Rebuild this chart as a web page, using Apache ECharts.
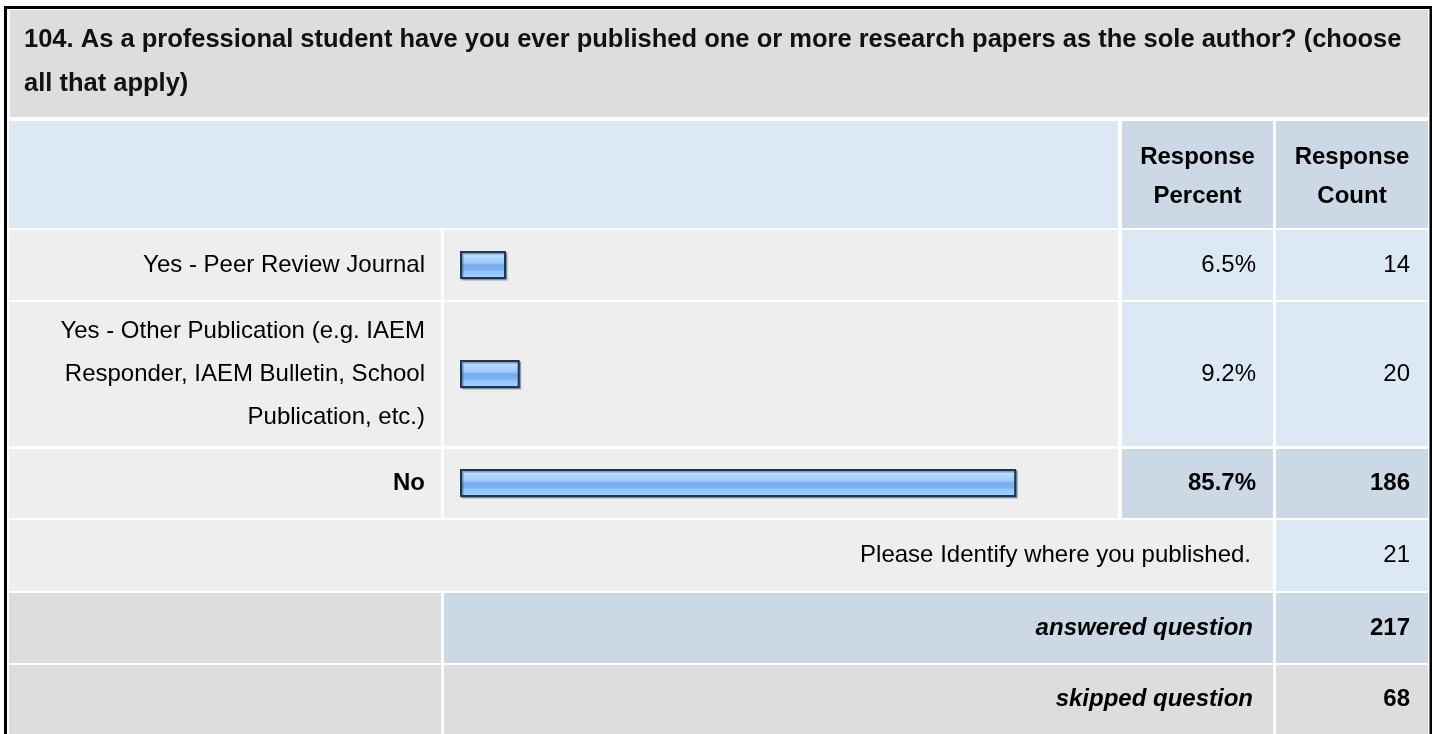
<!DOCTYPE html>
<html>
<head>
<meta charset="utf-8">
<script src="https://cdn.jsdelivr.net/npm/echarts@6/dist/echarts.min.js"></script>
<style>
html,body{margin:0;padding:0;background:#ffffff;}
#chart{width:1432px;height:734px;}
</style>
</head>
<body>
<div id="chart"></div>
<script>
// ---- data ----
const questionTitle = '104. As a professional student have you ever published one or more research papers as the sole author? (choose\nall that apply)';
const columnHeaders = ['Response\nPercent', 'Response\nCount'];
const categories = [
  'Yes - Peer Review Journal',
  'Yes - Other Publication (e.g. IAEM\nResponder, IAEM Bulletin, School\nPublication, etc.)',
  'No'
];
const percents = [6.5, 9.2, 85.7];
const counts = [14, 20, 186];
const otherLabel = 'Please Identify where you published.';
const otherCount = 21;
const summaryLabels = ['answered question', 'skipped question'];
const summaryCounts = [217, 68];

// ---- layout ----
const FONT = '"Liberation Sans", Arial, Helvetica, sans-serif';
const C_GRAY = '#dddddd', C_LIGHT = '#eeeeee', C_BLUE = '#dde8f5', C_BLUE2 = '#ccd8e6';
const colLabel = [9, 441], colBar = [444, 1118], colPct = [1122, 1273], colCnt = [1276, 1428];
const rows = [[230, 300], [302, 446], [449, 518]];
const rowOther = [520, 591], rowAns = [593, 663], rowSkip = [665, 740];
const maxIdx = percents.indexOf(Math.max.apply(null, percents));

const els = [];
function rect(x0, x1, y0, y1, fill) {
  els.push({type: 'rect', z: 0, shape: {x: x0, y: y0, width: x1 - x0, height: y1 - y0}, style: {fill: fill}, silent: true});
}
function text(str, x, y, align, weight, extra) {
  els.push({type: 'text', z: 5, x: x, y: y, silent: true, style: Object.assign({
    text: str, fill: '#000000', textAlign: align, textVerticalAlign: 'middle',
    font: (weight || 'normal') + ' 24px ' + FONT
  }, extra || {})});
}

// outer border
els.push({type: 'rect', z: 1, shape: {x: 5.5, y: 7.5, width: 1425.5, height: 740}, style: {fill: null, stroke: '#000', lineWidth: 3}, silent: true});
// title
rect(10, 1428, 10, 117, C_GRAY);
text(questionTitle, 24, 62, 'left', 'bold', {lineHeight: 44, fill: '#111', font: 'bold 25.5px ' + FONT});
// header row
rect(colLabel[0], colBar[1], 121, 228, C_BLUE);
rect(colPct[0], colPct[1], 121, 228, C_BLUE2);
rect(colCnt[0], colCnt[1], 121, 228, C_BLUE2);
text(columnHeaders[0], (colPct[0] + colPct[1]) / 2, 177, 'center', 'bold', {lineHeight: 39});
text(columnHeaders[1], (colCnt[0] + colCnt[1]) / 2, 177, 'center', 'bold', {lineHeight: 39});
// answer rows
rows.forEach(function (r, i) {
  const hi = i === maxIdx;
  const cy = (r[0] + r[1]) / 2;
  rect(colLabel[0], colLabel[1], r[0], r[1], C_LIGHT);
  rect(colBar[0], colBar[1], r[0], r[1], C_LIGHT);
  rect(colPct[0], colPct[1], r[0], r[1], hi ? C_BLUE2 : C_BLUE);
  rect(colCnt[0], colCnt[1], r[0], r[1], hi ? C_BLUE2 : C_BLUE);
  text(categories[i], 425, cy, 'right', hi ? 'bold' : 'normal', {lineHeight: 43});
  text(percents[i].toFixed(1) + '%', 1256, cy, 'right', hi ? 'bold' : 'normal');
  text(String(counts[i]), 1410, cy, 'right', hi ? 'bold' : 'normal');
});
// other row
rect(colLabel[0], colPct[1], rowOther[0], rowOther[1], C_LIGHT);
rect(colCnt[0], colCnt[1], rowOther[0], rowOther[1], C_BLUE);
text(otherLabel, 1251, (rowOther[0] + rowOther[1]) / 2, 'right');
text(String(otherCount), 1410, (rowOther[0] + rowOther[1]) / 2, 'right');
// summary rows
rect(colLabel[0], colLabel[1], rowAns[0], rowAns[1], C_GRAY);
rect(colBar[0], colPct[1], rowAns[0], rowAns[1], C_BLUE2);
rect(colCnt[0], colCnt[1], rowAns[0], rowAns[1], C_BLUE2);
text(summaryLabels[0], 1253, 628, 'right', 'bold', {font: 'italic bold 24px ' + FONT});
text(String(summaryCounts[0]), 1410, 628, 'right', 'bold');
rect(colLabel[0], colLabel[1], rowSkip[0], rowSkip[1], C_GRAY);
rect(colBar[0], colPct[1], rowSkip[0], rowSkip[1], C_GRAY);
rect(colCnt[0], colCnt[1], rowSkip[0], rowSkip[1], C_GRAY);
text(summaryLabels[1], 1253, 699, 'right', 'bold', {font: 'italic bold 24px ' + FONT});
text(String(summaryCounts[1]), 1410, 699, 'right', 'bold');

const chart = echarts.init(document.getElementById('chart'), null, {renderer: 'canvas'});
chart.setOption({
  animation: false,
  backgroundColor: '#ffffff',
  graphic: {elements: els},
  grid: {left: 460, width: 649, top: 210.5, height: 327, containLabel: false},
  xAxis: {type: 'value', min: 0, max: 100, show: false},
  yAxis: {type: 'category', data: categories, inverse: true, show: false},
  series: [{
    type: 'bar',
    z: 10,
    data: percents,
    barWidth: 28,
    barMinHeight: 46,
    itemStyle: {
      borderColor: '#1b365a',
      borderWidth: 2,
      shadowColor: 'rgba(60,70,90,0.45)',
      shadowOffsetX: 1.5,
      shadowOffsetY: 1.5,
      shadowBlur: 0,
      color: new echarts.graphic.LinearGradient(0, 0, 0, 1, [
        {offset: 0, color: '#cbe5ff'},
        {offset: 0.22, color: '#b2d7ff'},
        {offset: 0.42, color: '#9ccaff'},
        {offset: 0.5, color: '#77aeec'},
        {offset: 0.66, color: '#79b0ee'},
        {offset: 0.72, color: '#92c4fa'},
        {offset: 1, color: '#a9d3ff'}
      ])
    }
  }]
});
</script>
</body>
</html>
